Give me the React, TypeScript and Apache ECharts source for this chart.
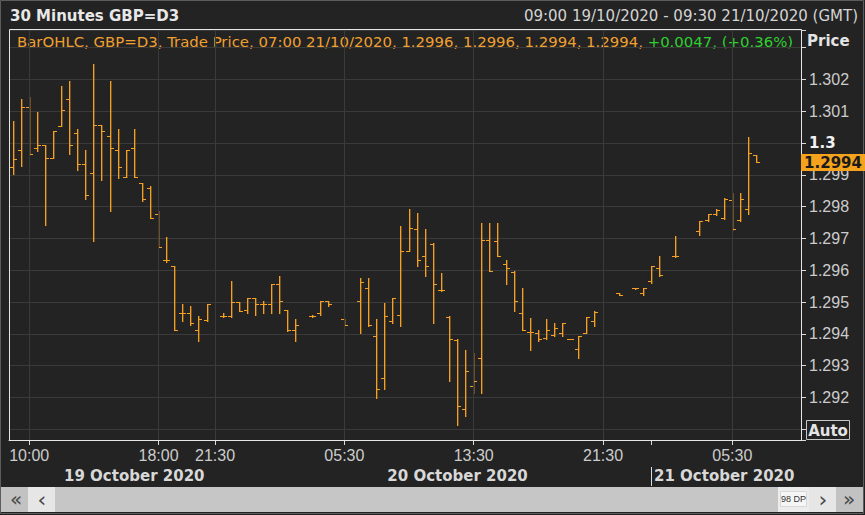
import React, { useEffect, useRef } from "react";
import * as echarts from "echarts";

// ---- data (30-minute OHLC bars, slot 0 = 09:00 19/10/2020) ----
const opens = [
  1.29924, 1.29976, 1.30113, 1.29984, 1.29992, 1.29952, 1.30052, 1.30136, 1.30029, 1.29934,
  1.29903, 1.30054, 1.30022, 1.29976, 1.29892, 1.29984, 1.29874, 1.29858, 1.29777, 1.29632,
  1.29611, 1.29465, 1.29465, 1.29412, 1.29441, null, 1.29454, 1.29454, 1.29498, 1.29475,
  1.29512, 1.29491, 1.29491, 1.29554, 1.29475, 1.2941, null, 1.29454, 1.29465, 1.29501,
  null, 1.29444, null, 1.29501, 1.29543, 1.29391, 1.2926, 1.29438, 1.29459, 1.29658,
  1.29727, 1.29643, 1.2968, 1.29535, 1.29452, 1.29379, 1.29161, 1.29234, 1.29323, 1.29695,
  1.2969, 1.29617, 1.29592, 1.29463, 1.29404, 1.29402, 1.29386, 1.29396, 1.29402, 1.29383,
  1.29352, 1.29402, 1.29438, null, null, 1.29528, null, 1.29543, 1.29528, 1.29564,
  1.29606, null, 1.29643, null, null, 1.29721, 1.29756, 1.29774, 1.29763, 1.29819,
  1.29756, 1.2979, 1.2996,
];
const highs = [
  1.30067, 1.30136, 1.30144, 1.30096, 1.29994, 1.30036, 1.30177, 1.30193, 1.30043, 1.29978,
  1.30246, 1.30054, 1.30195, 1.30043, 1.29976, 1.30043, 1.29874, 1.29865, 1.29784, 1.29704,
  1.29613, 1.29494, 1.29485, 1.29454, 1.29494, null, 1.29465, 1.29564, 1.29498, 1.29512,
  1.29512, 1.29501, 1.29554, 1.2958, 1.29475, 1.29444, null, 1.29459, 1.29501, 1.29501,
  null, 1.29444, null, 1.29575, 1.29575, 1.29444, 1.29496, 1.29512, 1.29737, 1.29792,
  1.29779, 1.29727, 1.29685, 1.29591, 1.29454, 1.29381, 1.29349, 1.29339, 1.29748, 1.29748,
  1.29748, 1.29632, 1.29596, 1.29543, 1.29449, 1.29412, 1.29444, 1.29433, 1.29433, 1.29383,
  1.29391, 1.29452, 1.2947, null, null, 1.29528, null, 1.29543, 1.29543, 1.29613,
  1.29645, null, 1.29706, null, null, 1.29753, 1.29774, 1.2979, 1.29826, 1.29842,
  1.29842, 1.30018, 1.2996,
];
const lows = [
  1.299, 1.29928, 1.29963, 1.29973, 1.29742, 1.29952, 1.30052, 1.29963, 1.29915, 1.29823,
  1.2969, 1.29882, 1.29786, 1.29889, 1.29892, 1.29892, 1.29816, 1.29763, 1.29672, 1.29624,
  1.2941, 1.29438, 1.29428, 1.29375, 1.29438, null, 1.29452, 1.29452, 1.2947, 1.29465,
  1.29459, 1.29465, 1.29465, 1.29465, 1.29407, 1.29375, null, 1.29452, 1.29459, 1.29485,
  null, 1.29425, null, 1.29402, 1.29423, 1.29197, 1.29224, 1.29433, 1.29423, 1.29658,
  1.29611, 1.2958, 1.29433, 1.29533, 1.2925, 1.29113, 1.2914, 1.29213, 1.29213, 1.29596,
  1.29643, 1.29554, 1.2947, 1.29412, 1.29349, 1.29375, 1.29381, 1.29391, 1.29391, 1.29382,
  1.29323, 1.29402, 1.29423, null, null, 1.29522, null, 1.29541, 1.29522, 1.29559,
  1.29582, null, 1.29641, null, null, 1.29708, 1.29753, 1.29771, 1.2976, 1.29724,
  1.29753, 1.29774, 1.2994,
];
const closes = [
  1.2995, 1.30113, 1.29965, 1.29992, 1.29952, 1.30036, 1.30104, 1.29992, 1.29934, 1.29834,
  1.30054, 1.30036, 1.29984, 1.29924, 1.29976, 1.29892, 1.29823, 1.29763, 1.29672, 1.2963,
  1.29412, 1.29465, 1.29433, 1.29446, 1.29494, null, 1.29454, 1.29498, 1.2947, 1.29512,
  1.29491, 1.29491, 1.29554, 1.29501, 1.2941, 1.29428, null, 1.29454, 1.29501, 1.29491,
  null, 1.29428, null, 1.29561, 1.29425, 1.29224, 1.29454, 1.29512, 1.29658, 1.29732,
  1.29632, 1.29611, 1.29554, 1.29535, 1.29381, 1.29173, 1.29281, 1.2925, 1.29695, 1.29596,
  1.29643, 1.29606, 1.29501, 1.29412, 1.29404, 1.29381, 1.29412, 1.29418, 1.29433, 1.29383,
  1.29391, 1.29452, 1.29467, null, null, 1.29522, null, 1.29543, 1.29543, 1.29611,
  1.29585, null, 1.29643, null, null, 1.29753, 1.29774, 1.29787, 1.29823, 1.29727,
  1.29823, 1.29966, 1.2994,
];

const SLOT_COUNT = 98; // 98 DP: 09:00 19/10 .. 09:30 21/10
const START_DAY = 19;
const timeTickSlots = [2, 18, 25, 41, 57, 73, 89];
const timeTickLabels = ["10:00", "18:00", "21:30", "05:30", "13:30", "21:30", "05:30"];
const dayBreakSlot = 79;
const dateLabelSlots = [15, 55, 88];
const dateLabels = ["19 October 2020", "20 October 2020", "21 October 2020"];
const priceTicks = [1.292, 1.293, 1.294, 1.295, 1.296, 1.297, 1.298, 1.299, 1.3, 1.301, 1.302];
const lastPrice = 1.2994;
const Y_MIN = 1.290664;
const Y_MAX = 1.303557;

const BAR = "#f5a023";
const ORANGE = "#f0a030";
const GREEN = "#2fd02f";

const categories: string[] = [];
for (let i = 0; i < SLOT_COUNT; i++) {
  const m = 9 * 60 + 30 * i;
  const day = START_DAY + Math.floor(m / 1440);
  const mm = m % 1440;
  const hh = String(Math.floor(mm / 60)).padStart(2, "0");
  const mi = String(mm % 60).padStart(2, "0");
  categories.push(`${day}/10 ${hh}:${mi}`);
}

export default function App() {
  const ref = useRef<HTMLDivElement>(null);
  useEffect(() => {
    const chart = echarts.init(ref.current as HTMLDivElement, null, { renderer: "svg" });
    const rows: number[][] = [];
    opens.forEach((o, i) => {
      if (o !== null && highs[i] !== null && lows[i] !== null && closes[i] !== null) {
        rows.push([i, o as number, highs[i] as number, lows[i] as number, closes[i] as number]);
      }
    });

    const isPriceTick = (v: number) => priceTicks.some((t) => Math.abs(t - v) < 1e-7);

    const option: any = {
      animation: false,
      backgroundColor: "#232323",
      grid: { left: 9, top: 30, width: 792, height: 410, containLabel: false },
      xAxis: [
        {
          type: "category",
          data: categories,
          boundaryGap: true,
          position: "bottom",
          axisLine: { show: true, lineStyle: { color: "#dcdcdc", width: 1 } },
          axisTick: {
            show: true,
            alignWithLabel: true,
            length: 5,
            interval: (i: number) => timeTickSlots.includes(i) || i === dayBreakSlot,
            lineStyle: { color: "#dcdcdc" },
          },
          axisLabel: {
            show: true,
            interval: (i: number) => timeTickSlots.includes(i),
            formatter: (_v: string, i: number) => {
              const k = timeTickSlots.indexOf(i);
              return k >= 0 ? timeTickLabels[k] : "";
            },
            color: "#cccccc",
            fontFamily: "Liberation Sans",
            fontSize: 16,
            margin: 7,
          },
          splitLine: { show: false },
        },
        {
          type: "category",
          data: categories,
          boundaryGap: true,
          position: "bottom",
          offset: 27,
          axisLine: { show: false },
          axisTick: {
            show: true,
            alignWithLabel: true,
            length: 19,
            interval: (i: number) => i === dayBreakSlot,
            lineStyle: { color: "#dcdcdc" },
          },
          axisLabel: {
            show: true,
            interval: (i: number) => dateLabelSlots.includes(i),
            formatter: (_v: string, i: number) => {
              const k = dateLabelSlots.indexOf(i);
              return k >= 0 ? dateLabels[k] : "";
            },
            color: "#d8d8d8",
            fontFamily: "DejaVu Sans",
            fontWeight: "bold",
            fontSize: 15,
            margin: 1,
          },
          splitLine: { show: false },
        },
      ],
      yAxis: {
        type: "value",
        position: "right",
        min: Y_MIN,
        max: Y_MAX,
        splitNumber: 13,
        scale: true,
        axisLine: { show: true, lineStyle: { color: "#dcdcdc" } },
        axisTick: { show: true, length: 5, inside: false, lineStyle: { color: "#dcdcdc" } },
        axisLabel: {
          color: "#cccccc",
          fontFamily: "Liberation Sans",
          fontSize: 16,
          margin: 8,
          formatter: (v: number) => {
            if (!isPriceTick(v)) return "";
            const r = Math.round(v * 1000) / 1000;
            if (Math.abs(r - 1.3) < 1e-9) return "{b|1.3}";
            return r.toFixed(3);
          },
          rich: {
            b: { fontFamily: "DejaVu Sans", fontWeight: "bold", fontSize: 15, color: "#f2f2f2" },
          },
        },
        splitLine: { show: true, lineStyle: { color: "#3a3a3a", width: 1 } },
      },
      series: [
        {
          type: "custom",
          name: "grid",
          data: [],
          z: 1,
          renderItem: () => null,
          markLine: {
            silent: true,
            symbol: ["none", "none"],
            label: { show: false },
            lineStyle: { color: "#3a3a3a", type: "solid", width: 1 },
            data: timeTickSlots.map((s) => ({ xAxis: s })),
          },
        },
        {
          type: "custom",
          name: "GBP=D3",
          z: 3,
          data: rows,
          encode: { x: 0, y: [1, 2, 3, 4] },
          renderItem: (_params: any, api: any) => {
            const idx = api.value(0);
            const o = api.coord([idx, api.value(1)]);
            const h = api.coord([idx, api.value(2)]);
            const l = api.coord([idx, api.value(3)]);
            const c = api.coord([idx, api.value(4)]);
            const X = Math.round(o[0] - 0.5);
            const yh = Math.round(h[1] - 0.5);
            const yl = Math.round(l[1] - 0.5);
            const yo = Math.round(o[1] - 0.5);
            const yc = Math.round(c[1] - 0.5);
            const w = 4;
            return {
              type: "group",
              children: [
                { type: "rect", shape: { x: X + 1, y: yh, width: 1, height: yl - yh + 1 }, style: { fill: BAR, opacity: 0.35, stroke: null } },
                { type: "rect", shape: { x: X, y: yh, width: 1, height: yl - yh + 1 }, style: { fill: BAR, stroke: null } },
                { type: "rect", shape: { x: X - w + 1, y: yo, width: w, height: 1 }, style: { fill: BAR, stroke: null } },
                { type: "rect", shape: { x: X, y: yc, width: w, height: 1 }, style: { fill: BAR, stroke: null } },
              ],
            };
          },
        },
      ],
      graphic: [
        {
          id: "outer",
          type: "rect",
          silent: true,
          z: 10,
          shape: { x: 0.5, y: 0.5, width: 863, height: 513 },
          style: { fill: "none", stroke: "#5c5c5c", lineWidth: 1 },
        },
        {
          id: "frame",
          type: "rect",
          silent: true,
          z: 10,
          shape: { x: 9.5, y: 29.5, width: 792, height: 411 },
          style: { fill: "none", stroke: "#e6e6e6", lineWidth: 1 },
        },
        {
          id: "title",
          type: "text",
          x: 10,
          y: 16,
          style: {
            text: "30 Minutes GBP=D3",
            fill: "#e8e8e8",
            fontFamily: "DejaVu Sans",
            fontWeight: "bold",
            fontSize: 15,
            verticalAlign: "middle",
            align: "left",
          },
        },
        {
          id: "range",
          type: "text",
          x: 858,
          y: 16,
          style: {
            text: "09:00 19/10/2020 - 09:30 21/10/2020 (GMT)",
            fill: "#d4d4d4",
            fontFamily: "DejaVu Sans",
            fontSize: 15,
            verticalAlign: "middle",
            align: "right",
          },
        },
        {
          id: "legend",
          type: "text",
          x: 17,
          y: 42,
          style: {
            text:
              "{o|BarOHLC, GBP=D3, Trade Price, 07:00 21/10/2020, 1.2996, 1.2996, 1.2994, 1.2994, }{g|+0.0047, (+0.36%)}",
            verticalAlign: "middle",
            align: "left",
            rich: {
              o: { fill: ORANGE, fontFamily: "DejaVu Sans", fontSize: 14.9 },
              g: { fill: GREEN, fontFamily: "DejaVu Sans", fontSize: 14.9 },
            },
          },
        },
        {
          id: "price",
          type: "text",
          x: 807,
          y: 41,
          style: {
            text: "Price",
            fill: "#e4e4e4",
            fontFamily: "DejaVu Sans",
            fontWeight: "bold",
            fontSize: 15,
            verticalAlign: "middle",
            align: "left",
          },
        },
        {
          id: "autoBox",
          type: "rect",
          shape: { x: 806.5, y: 420.5, width: 43, height: 19 },
          style: { fill: "none", stroke: "#c8c8c8", lineWidth: 1 },
        },
        {
          id: "autoText",
          type: "text",
          x: 828,
          y: 430.5,
          style: {
            text: "Auto",
            fill: "#e4e4e4",
            fontFamily: "DejaVu Sans",
            fontWeight: "bold",
            fontSize: 15,
            verticalAlign: "middle",
            align: "center",
          },
        },
        // scrollbar
        { id: "sb1", type: "rect", shape: { x: 1, y: 487, width: 27, height: 25 }, style: { fill: "#c2c2c2" } },
        { id: "sb2", type: "rect", shape: { x: 28, y: 487, width: 27, height: 25 }, style: { fill: "#e6e6e6" } },
        { id: "sb3", type: "rect", shape: { x: 55, y: 487, width: 723, height: 25 }, style: { fill: "#c6c6c6" } },
        { id: "sb4", type: "rect", shape: { x: 778, y: 487, width: 31, height: 25 }, style: { fill: "#ececec" } },
        { id: "sb5", type: "rect", shape: { x: 809, y: 487, width: 27, height: 25 }, style: { fill: "#e6e6e6" } },
        { id: "sb6", type: "rect", shape: { x: 836, y: 487, width: 27, height: 25 }, style: { fill: "#c2c2c2" } },
        {
          id: "sbt1",
          type: "text",
          x: 16,
          y: 499,
          style: { text: "«", fill: "#4a4a4a", fontFamily: "DejaVu Sans", fontSize: 20, align: "center", verticalAlign: "middle" },
        },
        {
          id: "sbt2",
          type: "text",
          x: 42,
          y: 499,
          style: { text: "‹", fill: "#4a4a4a", fontFamily: "DejaVu Sans", fontSize: 22, align: "center", verticalAlign: "middle" },
        },
        {
          id: "sbdp",
          type: "rect",
          shape: { x: 780.5, y: 491.5, width: 26, height: 15 },
          style: { fill: "#f6f6f6", stroke: "#d8d8d8", lineWidth: 1 },
        },
        {
          id: "sbt3",
          type: "text",
          x: 793.5,
          y: 499,
          style: { text: "98 DP", fill: "#333333", fontFamily: "Liberation Sans", fontSize: 9, align: "center", verticalAlign: "middle" },
        },
        {
          id: "sbt4",
          type: "text",
          x: 823,
          y: 499,
          style: { text: "›", fill: "#4a4a4a", fontFamily: "DejaVu Sans", fontSize: 22, align: "center", verticalAlign: "middle" },
        },
        {
          id: "sbt5",
          type: "text",
          x: 849,
          y: 499,
          style: { text: "»", fill: "#4a4a4a", fontFamily: "DejaVu Sans", fontSize: 20, align: "center", verticalAlign: "middle" },
        },
      ],
    };
    chart.setOption(option);

    // current price marker on the price axis, positioned through the y scale
    const py = chart.convertToPixel({ yAxisIndex: 0 }, lastPrice) as number;
    chart.setOption({
      graphic: [
        {
          id: "lastPriceBox",
          type: "rect",
          z: 20,
          shape: { x: 801, y: Math.round(py) - 8, width: 64, height: 17 },
          style: { fill: "#f5a21c" },
        },
        {
          id: "lastPriceText",
          type: "text",
          z: 21,
          x: 833,
          y: Math.round(py) + 0.5,
          style: {
            text: lastPrice.toFixed(4),
            fill: "#1a1a1a",
            fontFamily: "DejaVu Sans",
            fontWeight: "bold",
            fontSize: 15,
            align: "center",
            verticalAlign: "middle",
          },
        },
      ],
    });
    return () => chart.dispose();
  }, []);

  return (
    <div style={{ position: "fixed", left: 0, top: 0, width: 865, height: 515, background: "#232323" }}>
      <div ref={ref} style={{ width: 865, height: 515 }} />
    </div>
  );
}
